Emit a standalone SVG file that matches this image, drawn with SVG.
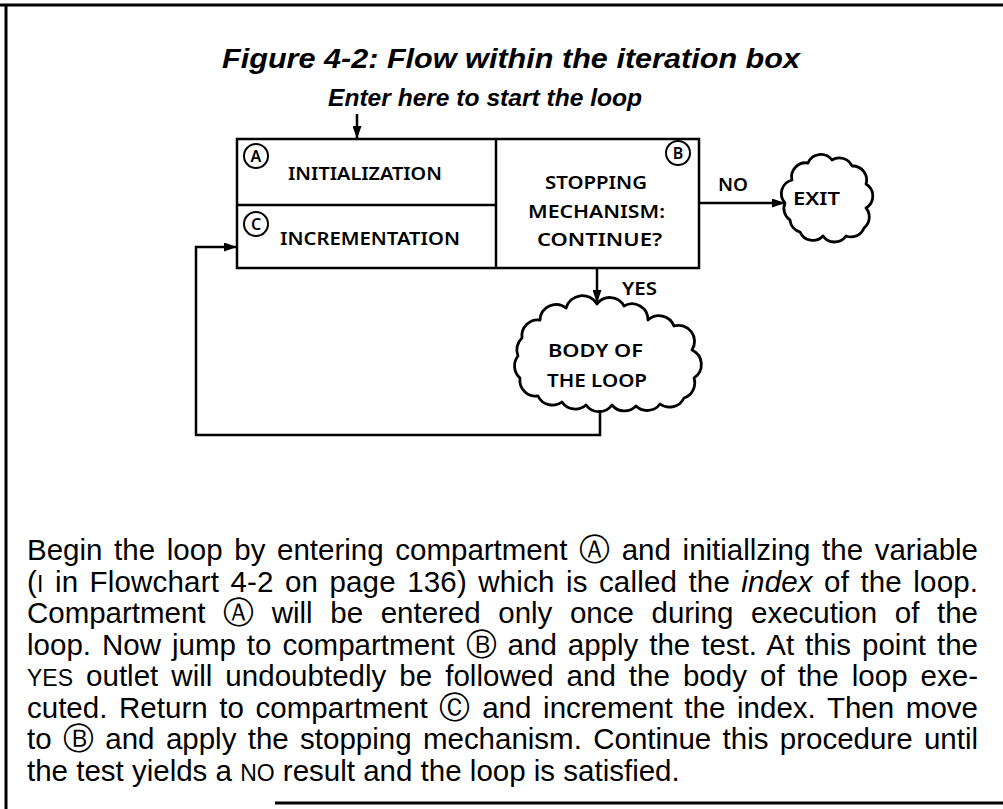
<svg xmlns="http://www.w3.org/2000/svg" width="1003" height="809" viewBox="0 0 1003 809">
<style>
.frame{stroke:#000;stroke-width:3;fill:none}
.ln{stroke:#000;stroke-width:2.5;fill:none}
.cloud{stroke:#000;stroke-width:2.8;fill:#fff;stroke-linejoin:round}
.lbl{font-family:"Noto Sans","DejaVu Sans",sans-serif;font-weight:600;font-size:18px;fill:#000}
.cl{font-family:"Noto Sans","DejaVu Sans",sans-serif;font-weight:600;font-size:16px;fill:#000;text-anchor:middle}
.ttl{font-family:"Liberation Sans",Arial,sans-serif;font-weight:bold;font-style:italic;fill:#000}
.p{font-family:"Liberation Sans",Arial,sans-serif;font-size:29.5px;fill:#000}
.ci{font-family:"DejaVu Sans",sans-serif;font-size:31px}
.circ{stroke:#000;stroke-width:2;fill:none}
.sc{font-size:23px}
</style>
<defs>
<marker id="ah" viewBox="0 0 13 9" refX="13" refY="4.5" markerWidth="13" markerHeight="9" markerUnits="userSpaceOnUse" orient="auto">
<path d="M0,0 L13,4.5 L0,9 Z" fill="#000"/>
</marker>
</defs>
<rect width="1003" height="809" fill="#fff"/>
<g id="frame">
<line class="frame" x1="0" y1="5" x2="1003" y2="5" stroke-width="3.5"/>
<line class="frame" x1="6" y1="5" x2="6" y2="809"/>
<line class="frame" x1="275" y1="803" x2="1003" y2="803" stroke-width="2.5"/>
</g>
<g id="title">
<text class="ttl" x="222" y="68" font-size="27" textLength="578" lengthAdjust="spacingAndGlyphs">Figure 4-2: Flow within the iteration box</text>
<text class="ttl" x="328" y="106" font-size="24" textLength="314" lengthAdjust="spacingAndGlyphs">Enter here to start the loop</text>
</g>
<g id="iteration-box">
<rect class="ln" x="237" y="139" width="462" height="129"/>
<line class="ln" x1="496" y1="139" x2="496" y2="268"/>
<line class="ln" x1="237" y1="205" x2="496" y2="205"/>
</g>
<g id="compartment-a">
<circle class="circ" cx="256" cy="156" r="12"/>
<text class="cl" x="256" y="162">A</text>
<text class="lbl" x="288" y="180" textLength="154" lengthAdjust="spacingAndGlyphs">INITIALIZATION</text>
</g>
<g id="compartment-c">
<circle class="circ" cx="256" cy="224" r="12"/>
<text class="cl" x="256" y="230">C</text>
<text class="lbl" x="280" y="245" textLength="180" lengthAdjust="spacingAndGlyphs">INCREMENTATION</text>
</g>
<g id="compartment-b">
<circle class="circ" cx="678" cy="153" r="12"/>
<text class="cl" x="678" y="159">B</text>
<text class="lbl" x="545" y="189" textLength="102" lengthAdjust="spacingAndGlyphs">STOPPING</text>
<text class="lbl" x="528" y="218" textLength="137" lengthAdjust="spacingAndGlyphs">MECHANISM:</text>
<text class="lbl" x="537" y="246" textLength="125" lengthAdjust="spacingAndGlyphs">CONTINUE?</text>
</g>
<g id="exit">
<path class="cloud" d="M785,203 A14,14 0 0 1 792,180 A14,14 0 0 1 808,163 A14,14 0 0 1 832,160 A14,14 0 0 1 852,166 A14,14 0 0 1 866,184 A14,14 0 0 1 866,208 A14,14 0 0 1 864,228 A14,14 0 0 1 846,236 A14,14 0 0 1 823,236 A14,14 0 0 1 800,232 A14,14 0 0 1 790,220 A14,14 0 0 1 785,203 Z"/>
<text class="lbl" x="793" y="205" textLength="47" lengthAdjust="spacingAndGlyphs">EXIT</text>
</g>
<g id="body">
<path class="cloud" d="M522,338 A16,16 0 0 1 540,320 A16,16 0 0 1 566,308 A17,17 0 0 1 597,304 A16,16 0 0 1 624,306 A16,16 0 0 1 648,320 A16,16 0 0 1 674,326 A16,16 0 0 1 692,350 A16,16 0 0 1 694,378 A16,16 0 0 1 684,398 A16,16 0 0 1 660,404 A16,16 0 0 1 636,406 A16,16 0 0 1 612,405 A16,16 0 0 1 586,405 A16,16 0 0 1 562,402 A16,16 0 0 1 538,396 A16,16 0 0 1 520,378 A16,16 0 0 1 518,356 A16,16 0 0 1 522,338 Z"/>
<text class="lbl" x="548" y="357" textLength="95" lengthAdjust="spacingAndGlyphs">BODY OF</text>
<text class="lbl" x="547" y="387" textLength="100" lengthAdjust="spacingAndGlyphs">THE LOOP</text>
</g>
<g id="connectors">
<path class="ln" d="M357,114 V139" marker-end="url(#ah)"/>
<path class="ln" d="M699,203 H785" marker-end="url(#ah)"/>
<path class="ln" d="M597,268 V303" marker-end="url(#ah)"/>
<path class="ln" d="M600,410 V435 H196 V247 H237" marker-end="url(#ah)"/>
<text class="lbl" x="718" y="191" textLength="30" lengthAdjust="spacingAndGlyphs">NO</text>
<text class="lbl" x="622" y="295" textLength="35" lengthAdjust="spacingAndGlyphs">YES</text>
</g>
<g id="paragraph">
<text class="p" x="27" y="560" word-spacing="3.5" textLength="951" lengthAdjust="spacing">Begin the loop by entering compartment <tspan class="ci">Ⓐ</tspan> and initiallzing the variable</text>
<text class="p" x="27" y="591.5" word-spacing="3" textLength="951" lengthAdjust="spacing">(<tspan class="sc">I</tspan> in Flowchart 4-2 on page 136) which is called the <tspan font-style="italic">index</tspan> of the loop.</text>
<text class="p" x="27" y="623" word-spacing="9.5" textLength="951" lengthAdjust="spacing">Compartment <tspan class="ci">Ⓐ</tspan> will be entered only once during execution of the</text>
<text class="p" x="27" y="654.5" word-spacing="2.7" textLength="951" lengthAdjust="spacing">loop. Now jump to compartment <tspan class="ci">Ⓑ</tspan> and apply the test. At this point the</text>
<text class="p" x="27" y="686" word-spacing="4.8" textLength="951" lengthAdjust="spacing"><tspan class="sc">YES</tspan> outlet will undoubtedly be followed and the body of the loop exe-</text>
<text class="p" x="27" y="717.5" word-spacing="3.5" textLength="951" lengthAdjust="spacing">cuted. Return to compartment <tspan class="ci">Ⓒ</tspan> and increment the index. Then move</text>
<text class="p" x="27" y="749" word-spacing="3.2" textLength="951" lengthAdjust="spacing">to <tspan class="ci">Ⓑ</tspan> and apply the stopping mechanism. Continue this procedure until</text>
<text class="p" x="27" y="780.5">the test yields a <tspan class="sc">NO</tspan> result and the loop is satisfied.</text>
</g>
</svg>
